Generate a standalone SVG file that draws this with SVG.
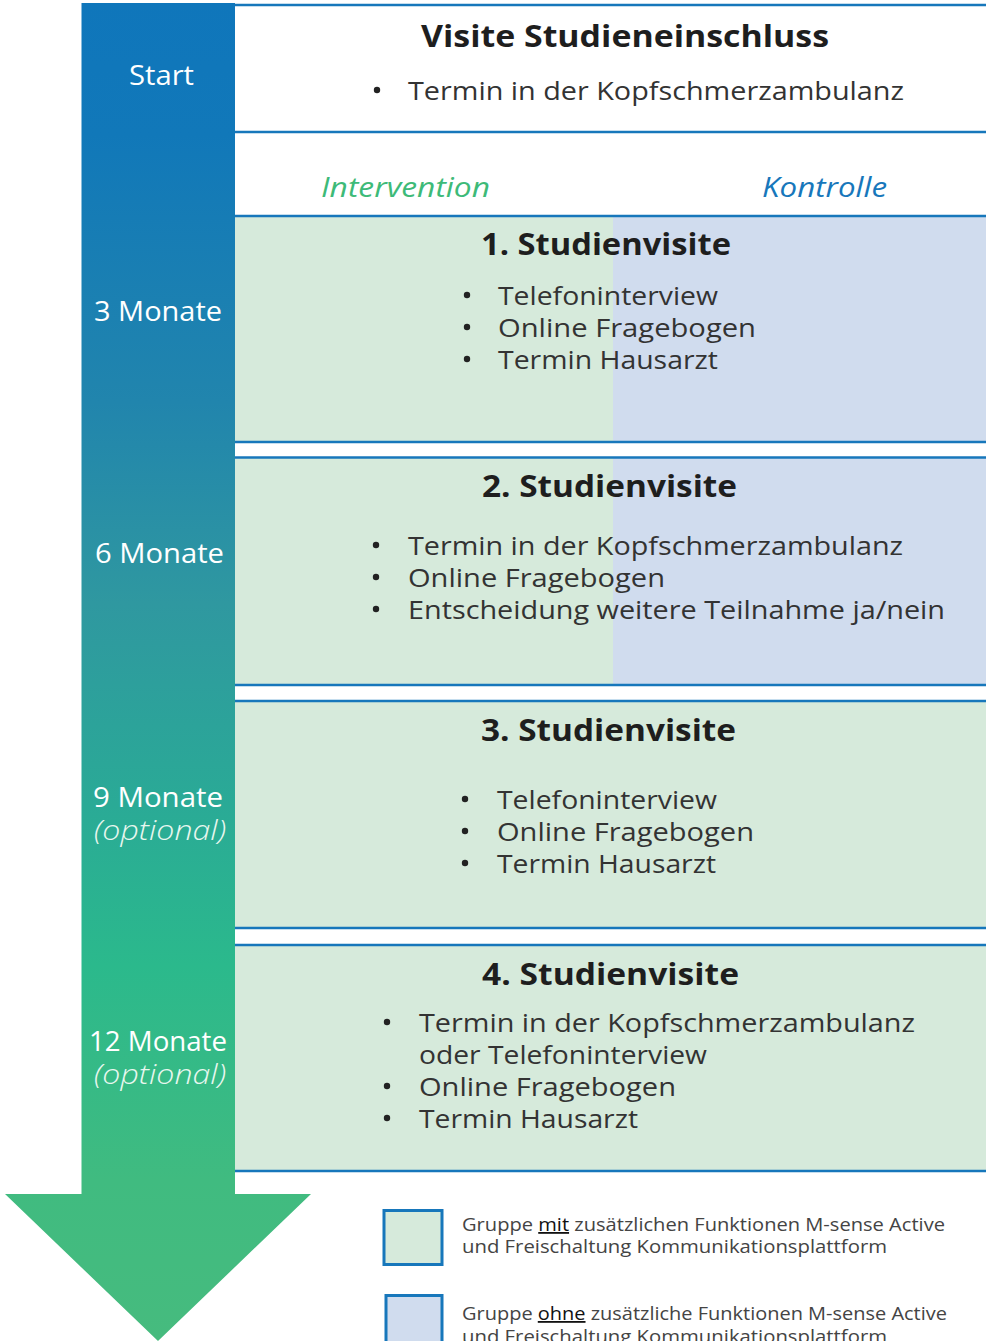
<svg xmlns="http://www.w3.org/2000/svg" width="986" height="1341" viewBox="0 0 986 1341">
  <defs>
    <linearGradient id="timeGrad" x1="0" y1="0" x2="0" y2="1341" gradientUnits="userSpaceOnUse">
      <stop offset="0" stop-color="#0f76bb"/>
      <stop offset="0.1" stop-color="#1178b9"/>
      <stop offset="0.3" stop-color="#2185ad"/>
      <stop offset="0.45" stop-color="#2f98a0"/>
      <stop offset="0.6" stop-color="#2aaa96"/>
      <stop offset="0.72" stop-color="#2bb98c"/>
      <stop offset="0.88" stop-color="#40bb80"/>
      <stop offset="1" stop-color="#46bb7e"/>
    </linearGradient>
    <style>
      .sans { font-family: "Open Sans", "Liberation Sans", sans-serif; }
      .lbl { font-size: 27px; fill: #ffffff; }
      .lbl-it { font-size: 27px; fill: #e8f7ef; font-style: italic; font-weight: 300; }
      .head { font-size: 31px; font-weight: 700; fill: #1e1e1e; }
      .item { font-size: 25px; fill: #333333; }
      .bul { fill: #222222; }
      .grp { font-size: 27px; font-style: italic; }
      .leg { font-size: 18px; fill: #444444; }
      .u { fill: #111111; text-decoration: underline; }
      .rule { stroke: #1777bb; stroke-width: 2.6; fill: none; }
      .green { fill: #d6eadb; }
      .blue { fill: #d0dcee; }
    </style>
  </defs>

  <rect width="986" height="1341" fill="#ffffff"/>

  <!-- timeline arrow -->
  <g id="timeline">
    <path d="M81.5,3 H235 V1194 H311 L158,1341 L5,1194 H81.5 Z" fill="url(#timeGrad)"/>
    <text class="sans lbl" x="129" y="85" textLength="65" lengthAdjust="spacingAndGlyphs">Start</text>
    <text class="sans lbl" x="94" y="321" textLength="128" lengthAdjust="spacingAndGlyphs">3 Monate</text>
    <text class="sans lbl" x="95" y="563" textLength="129" lengthAdjust="spacingAndGlyphs">6 Monate</text>
    <text class="sans lbl" x="93" y="807" textLength="130" lengthAdjust="spacingAndGlyphs">9 Monate</text>
    <text class="sans lbl-it" x="94" y="840" textLength="132" lengthAdjust="spacingAndGlyphs">(optional)</text>
    <text class="sans lbl" x="89" y="1051" textLength="138" lengthAdjust="spacingAndGlyphs">12 Monate</text>
    <text class="sans lbl-it" x="94" y="1084" textLength="132" lengthAdjust="spacingAndGlyphs">(optional)</text>
  </g>

  <!-- inclusion visit -->
  <g id="visit-inclusion">
    <rect x="235" y="5" width="751" height="127" fill="#ffffff"/>
    <text class="sans head" x="421" y="47" textLength="408" lengthAdjust="spacingAndGlyphs">Visite Studieneinschluss</text>
    <circle class="bul" cx="377" cy="90" r="3.2"/>
    <text class="sans item" x="408" y="100" textLength="496" lengthAdjust="spacingAndGlyphs">Termin in der Kopfschmerzambulanz</text>
  </g>

  <!-- group headings -->
  <g id="groups">
    <text class="sans grp" x="321" y="197" textLength="169" lengthAdjust="spacingAndGlyphs" fill="#3dba78">Intervention</text>
    <text class="sans grp" x="762" y="197" textLength="125" lengthAdjust="spacingAndGlyphs" fill="#1777bb">Kontrolle</text>
  </g>

  <!-- visit 1 -->
  <g id="visit-1">
    <rect class="green" x="235" y="216" width="378" height="226"/>
    <rect class="blue" x="613" y="216" width="373" height="226"/>
    <text class="sans head" x="481" y="255" textLength="250" lengthAdjust="spacingAndGlyphs">1. Studienvisite</text>
    <circle class="bul" cx="467" cy="295" r="3.2"/>
    <circle class="bul" cx="467" cy="327" r="3.2"/>
    <circle class="bul" cx="467" cy="359" r="3.2"/>
    <text class="sans item" x="498" y="305" textLength="220" lengthAdjust="spacingAndGlyphs">Telefoninterview</text>
    <text class="sans item" x="498" y="337" textLength="258" lengthAdjust="spacingAndGlyphs">Online Fragebogen</text>
    <text class="sans item" x="498" y="369" textLength="220" lengthAdjust="spacingAndGlyphs">Termin Hausarzt</text>
  </g>

  <!-- visit 2 -->
  <g id="visit-2">
    <rect class="green" x="235" y="458" width="378" height="226"/>
    <rect class="blue" x="613" y="458" width="373" height="226"/>
    <text class="sans head" x="482" y="497" textLength="255" lengthAdjust="spacingAndGlyphs">2. Studienvisite</text>
    <circle class="bul" cx="376" cy="545" r="3.2"/>
    <circle class="bul" cx="376" cy="577" r="3.2"/>
    <circle class="bul" cx="376" cy="609" r="3.2"/>
    <text class="sans item" x="408" y="555" textLength="495" lengthAdjust="spacingAndGlyphs">Termin in der Kopfschmerzambulanz</text>
    <text class="sans item" x="408" y="587" textLength="257" lengthAdjust="spacingAndGlyphs">Online Fragebogen</text>
    <text class="sans item" x="408" y="619" textLength="537" lengthAdjust="spacingAndGlyphs">Entscheidung weitere Teilnahme ja/nein</text>
  </g>

  <!-- visit 3 -->
  <g id="visit-3">
    <rect class="green" x="235" y="701" width="751" height="227"/>
    <text class="sans head" x="481" y="741" textLength="255" lengthAdjust="spacingAndGlyphs">3. Studienvisite</text>
    <circle class="bul" cx="465" cy="799" r="3.2"/>
    <circle class="bul" cx="465" cy="831" r="3.2"/>
    <circle class="bul" cx="465" cy="863" r="3.2"/>
    <text class="sans item" x="497" y="809" textLength="220" lengthAdjust="spacingAndGlyphs">Telefoninterview</text>
    <text class="sans item" x="497" y="841" textLength="257" lengthAdjust="spacingAndGlyphs">Online Fragebogen</text>
    <text class="sans item" x="497" y="873" textLength="219" lengthAdjust="spacingAndGlyphs">Termin Hausarzt</text>
  </g>

  <!-- visit 4 -->
  <g id="visit-4">
    <rect class="green" x="235" y="945" width="751" height="226"/>
    <text class="sans head" x="482" y="985" textLength="257" lengthAdjust="spacingAndGlyphs">4. Studienvisite</text>
    <circle class="bul" cx="387" cy="1022" r="3.2"/>
    <circle class="bul" cx="387" cy="1086" r="3.2"/>
    <circle class="bul" cx="387" cy="1118" r="3.2"/>
    <text class="sans item" x="419" y="1032" textLength="496" lengthAdjust="spacingAndGlyphs">Termin in der Kopfschmerzambulanz</text>
    <text class="sans item" x="419" y="1064" textLength="288" lengthAdjust="spacingAndGlyphs">oder Telefoninterview</text>
    <text class="sans item" x="419" y="1096" textLength="257" lengthAdjust="spacingAndGlyphs">Online Fragebogen</text>
    <text class="sans item" x="419" y="1128" textLength="219" lengthAdjust="spacingAndGlyphs">Termin Hausarzt</text>
  </g>

  <!-- horizontal rules framing the visits -->
  <g id="rules">
    <line class="rule" x1="235" y1="5" x2="986" y2="5"/>
    <line class="rule" x1="235" y1="132" x2="986" y2="132"/>
    <line class="rule" x1="235" y1="216" x2="986" y2="216"/>
    <line class="rule" x1="235" y1="442" x2="986" y2="442"/>
    <line class="rule" x1="235" y1="457.5" x2="986" y2="457.5"/>
    <line class="rule" x1="235" y1="685" x2="986" y2="685"/>
    <line class="rule" x1="235" y1="701" x2="986" y2="701"/>
    <line class="rule" x1="235" y1="928" x2="986" y2="928"/>
    <line class="rule" x1="235" y1="945" x2="986" y2="945"/>
    <line class="rule" x1="235" y1="1171" x2="986" y2="1171"/>
  </g>

  <!-- legend -->
  <g id="legend-with">
    <rect class="green" x="384" y="1210.5" width="58" height="54" stroke="#1777bb" stroke-width="3"/>
    <text class="sans leg" x="462" y="1231" textLength="483" lengthAdjust="spacingAndGlyphs">Gruppe <tspan class="u">mit</tspan> zusätzlichen Funktionen M-sense Active</text>
    <text class="sans leg" x="462" y="1253" textLength="425" lengthAdjust="spacingAndGlyphs">und Freischaltung Kommunikationsplattform</text>
  </g>
  <g id="legend-without">
    <rect class="blue" x="386" y="1295.5" width="56" height="60" stroke="#1777bb" stroke-width="3"/>
    <text class="sans leg" x="462" y="1320" textLength="485" lengthAdjust="spacingAndGlyphs">Gruppe <tspan class="u">ohne</tspan> zusätzliche Funktionen M-sense Active</text>
    <text class="sans leg" x="462" y="1343" textLength="425" lengthAdjust="spacingAndGlyphs">und Freischaltung Kommunikationsplattform</text>
  </g>
</svg>
